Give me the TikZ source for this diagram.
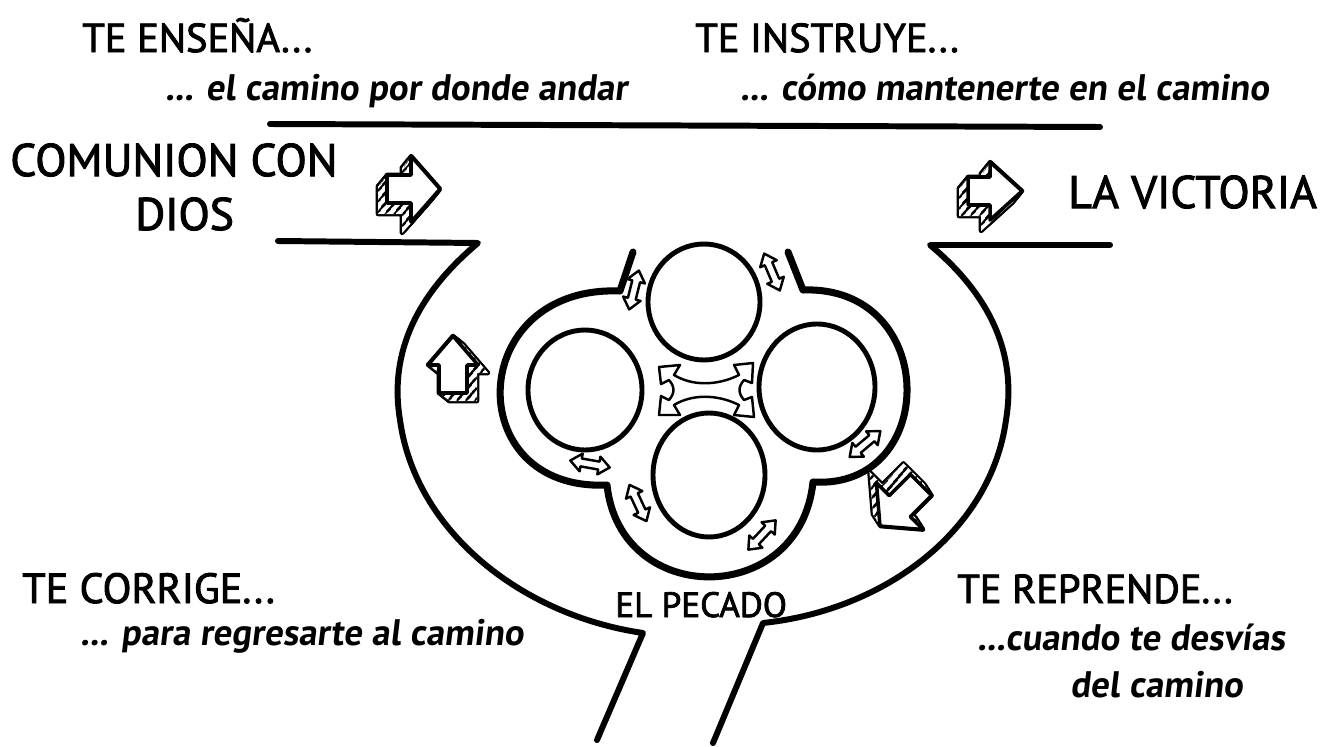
\documentclass[tikz,border=0pt]{standalone}
\usepackage{fontspec}
\setmainfont{PT Sans}
\newfontfamily\capsfont[FakeBold=2.2]{PT Sans}
\newfontfamily\handfont[FakeSlant=0.12]{PT Sans}
\usetikzlibrary{patterns.meta}

\tikzset{
  pics/blockarrow/.style n args={4}{code={
    \path[pic actions] (0,-#2) -- (#1,-#2) -- (#1,-#4) -- ({#1+#3},0) -- (#1,#4) -- (#1,#2) -- (0,#2) -- cycle;}},
  pics/twoway/.style={code={
    \path[pic actions] (-20,0) -- (-9,-9) -- (-9,-4) -- (9,-4) -- (9,-9) -- (20,0) -- (9,9) -- (9,4) -- (-9,4) -- (-9,9) -- cycle;}}
}

\newcommand{\hatcharrow}[5]{%
  \foreach \k in {0,...,8}
    \pic[draw, line width=2.6pt, line join=round, shift={({#3*\k/8},{#4*\k/8})}, rotate=#2] at #1 {blockarrow=#5};
  \foreach \k in {0,...,8}
    \pic[fill=white, shift={({#3*\k/8},{#4*\k/8})}, rotate=#2] at #1 {blockarrow=#5};
  \foreach \k in {1,...,8}
    \pic[pattern={Lines[angle=50,distance=4pt,line width=1.2pt]}, shift={({#3*\k/8},{#4*\k/8})}, rotate=#2] at #1 {blockarrow=#5};
  \pic[draw, fill=white, line width=2pt, line join=round, rotate=#2] at #1 {blockarrow=#5};
}

\begin{document}
\begin{tikzpicture}[x=0.02cm, y=-0.02cm,
    bigtext/.style={inner sep=0pt, anchor=base west, font=\capsfont\fontsize{26}{30}\selectfont},
    headtext/.style={inner sep=0pt, anchor=base west, font=\capsfont\fontsize{23}{27}\selectfont},
    smalltext/.style={inner sep=0pt, anchor=base west, font=\handfont\bfseries\fontsize{21}{25}\selectfont},
    rim/.style={line width=3.4pt, line cap=round, line join=round},
    ring/.style={line width=2.8pt},
    twostyle/.style={draw, fill=white, line width=1.4pt, line join=round}]
  \useasboundingbox (0,0) rectangle (1326,747);

  \node[headtext] (ensena) at (82,52) {TE ENSEÑA...};
  \node[smalltext] (andar) at (165,100) {... el camino por donde andar};
  \node[headtext] (instruye) at (695,52) {TE INSTRUYE...};
  \node[smalltext] (mantener) at (740,100) {... cómo mantenerte en el camino};
  \node[bigtext] (comunion) at (10,176) {COMUNION CON};
  \node[bigtext] (dios) at (135,230) {DIOS};
  \node[bigtext] (victoria) at (1068,208) {LA VICTORIA};
  \node[headtext, font=\capsfont\fontsize{24}{28}\selectfont] (corrige) at (22,603) {TE CORRIGE...};
  \node[smalltext] (regresar) at (80,645) {... para regresarte al camino};
  \node[inner sep=0pt, anchor=base west, font=\capsfont\fontsize{20}{24}\selectfont] (pecado) at (615,617) {EL PECADO};
  \node[headtext] (reprende) at (957,603) {TE REPRENDE...};
  \node[smalltext] (desvias) at (977,650) {...cuando te desvías};
  \node[smalltext] (delcamino) at (1070,697) {del camino};

  \draw[rim] (270,124) -- (1100,127);
  \draw[rim] (278,241) -- (478,243) .. controls (410,300) and (390,360) .. (400,420)
    .. controls (415,530) and (520,615) .. (643,633) -- (597,740);
  \draw[rim] (713,743) -- (763,623) .. controls (886,610) and (991,530) .. (1006,420)
    .. controls (1016,360) and (996,300) .. (930,245) -- (1110,245);

  \draw[rim, line width=4pt] (633,252) -- (620,291) .. controls (465,285) and (460,492) .. (607,485)
    .. controls (620,608) and (800,608) .. (813,482)
    .. controls (940,490) and (940,285) .. (803,290) -- (788,252);

  \draw[ring] (704,302) ellipse [x radius=56, y radius=58];
  \draw[ring] (585,390) ellipse [x radius=57, y radius=60];
  \draw[ring] (817,387) ellipse [x radius=58, y radius=63];
  \draw[ring] (709,475) ellipse [x radius=56, y radius=62];

  \draw[twostyle, shift={(707,390)}] (-48,-23) -- (-27,-25) -- (-33,-15)
    .. controls (-15,-4) and (10,-4) .. (32,-15) -- (27,-25) -- (46,-27) -- (45,-7) -- (37,-10)
    .. controls (31,-3) and (31,3) .. (37,10) -- (45,7) -- (47,27) -- (27,25) -- (32,15)
    .. controls (10,4) and (-15,4) .. (-33,15) -- (-27,25) -- (-48,25) -- (-46,6) -- (-38,10)
    .. controls (-32,3) and (-32,-3) .. (-38,-10) -- (-46,-6) -- cycle;

  \pic[twostyle, rotate=76] at (634,290) {twoway};
  \pic[twostyle, rotate=113] at (772,272) {twoway};
  \pic[twostyle, rotate=-10] at (590,464) {twoway};
  \pic[twostyle, rotate=115] at (638,503) {twoway};
  \pic[twostyle, rotate=47] at (762,535) {twoway};
  \pic[twostyle, rotate=40] at (865,444) {twoway};

  \hatcharrow{(387,189)}{0}{-9}{11}{{24}{14}{29}{33}}
  \hatcharrow{(968,191)}{0}{-9}{11}{{22}{14}{32}{29}}
  \hatcharrow{(453,393)}{90}{10}{8}{{28}{14}{29}{25}}
  \hatcharrow{(921,485)}{225}{-7}{-11}{{30}{15}{28}{33}}
\end{tikzpicture}
\end{document}
